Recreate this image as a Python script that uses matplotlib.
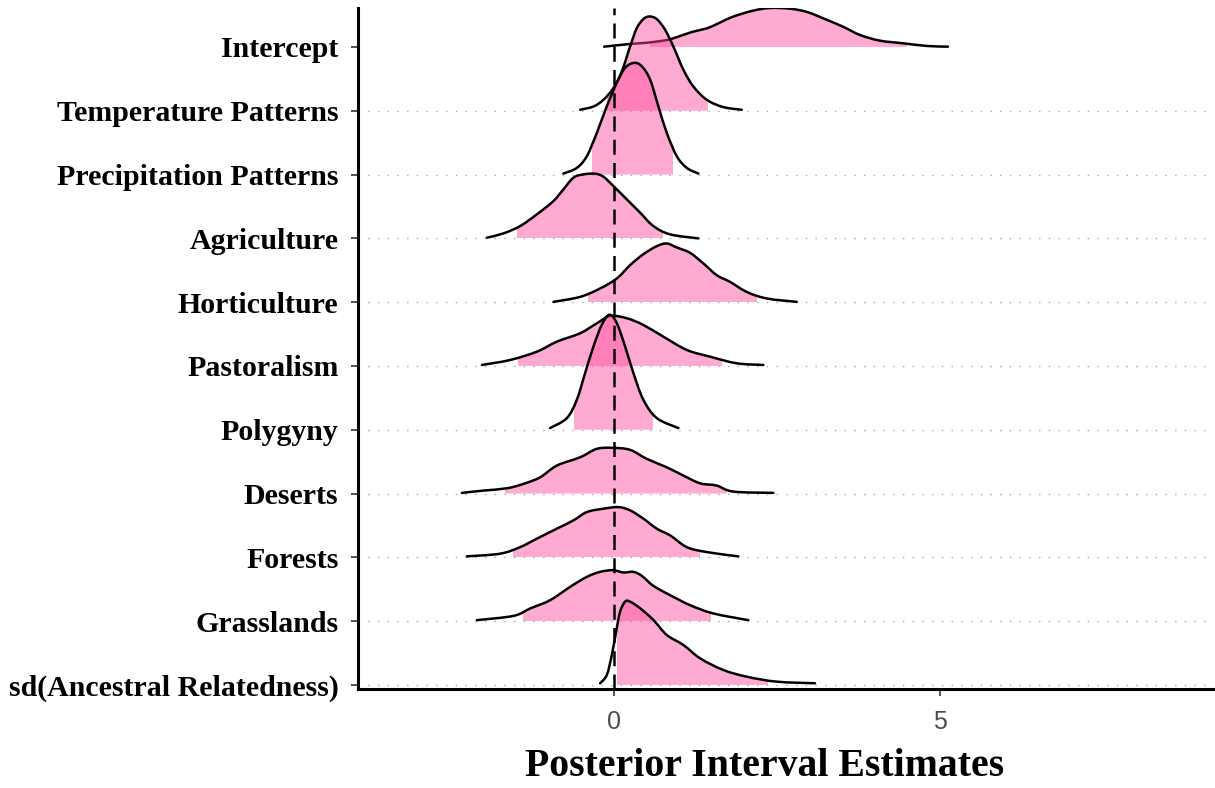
import numpy as np
import matplotlib
matplotlib.use("Agg")
import matplotlib.pyplot as plt
from matplotlib.path import Path
from matplotlib.patches import PathPatch, Rectangle

# parameter names, top row first
params = ["Intercept", "Temperature Patterns", "Precipitation Patterns",
          "Agriculture", "Horticulture", "Pastoralism", "Polygyny",
          "Deserts", "Forests", "Grasslands", "sd(Ancestral Relatedness)"]

# posterior density outlines (x grid, density height in row units)
x_intercept = [-0.153, 0.245, 0.506, 0.813, 1.012, 1.212, 1.426, 1.580, 1.825, 2.132,
               2.393, 2.699, 2.960, 3.206, 3.512, 3.773, 4.080, 4.433, 4.801, 5.123]
d_intercept = [0.005, 0.047, 0.067, 0.110, 0.172, 0.240, 0.293, 0.361, 0.475, 0.569,
               0.611, 0.600, 0.549, 0.450, 0.318, 0.188, 0.099, 0.058, 0.016, 0.005]

x_temp = [-0.521, -0.317, -0.164, -0.011, 0.118, 0.245, 0.348, 0.449, 0.541, 0.655,
          0.782, 0.910, 1.063, 1.216, 1.422, 1.676, 1.959]
d_temp = [0.016, 0.067, 0.172, 0.356, 0.616, 1.006, 1.296, 1.437, 1.478, 1.437,
          1.270, 1.006, 0.643, 0.381, 0.172, 0.058, 0.016]

x_precip = [-0.778, -0.572, -0.419, -0.265, -0.112, 0.041, 0.169, 0.307, 0.425, 0.552,
            0.679, 0.808, 0.962, 1.115, 1.293]
d_precip = [0.016, 0.105, 0.287, 0.654, 1.071, 1.437, 1.672, 1.751, 1.697, 1.489,
            1.071, 0.654, 0.287, 0.105, 0.016]

x_agri = [-1.952, -1.698, -1.442, -1.186, -0.931, -0.778, -0.624, -0.471, -0.291, -0.164,
          -0.011, 0.195, 0.399, 0.603, 0.859, 1.293]
d_agri = [0.011, 0.078, 0.193, 0.376, 0.585, 0.768, 0.951, 1.003, 1.014, 0.967,
          0.820, 0.611, 0.403, 0.193, 0.063, 0.0]

x_horti = [-0.931, -0.521, -0.215, 0.041, 0.245, 0.449, 0.655, 0.808, 0.962, 1.166,
           1.370, 1.575, 1.779, 2.035, 2.342, 2.802]
d_horti = [0.005, 0.083, 0.215, 0.371, 0.580, 0.752, 0.878, 0.920, 0.857, 0.773,
           0.607, 0.423, 0.318, 0.161, 0.058, 0.005]

x_pasto = [-2.029, -1.595, -1.186, -0.879, -0.521, -0.265, -0.061, 0.195, 0.449, 0.756,
           1.115, 1.472, 1.882, 2.290]
d_pasto = [0.016, 0.094, 0.224, 0.381, 0.513, 0.669, 0.784, 0.748, 0.643, 0.459,
           0.251, 0.146, 0.042, 0.016]

x_polyg = [-0.982, -0.725, -0.572, -0.445, -0.317, -0.189, -0.072, 0.041, 0.169, 0.296,
           0.449, 0.655, 0.986]
d_polyg = [0.027, 0.183, 0.470, 0.889, 1.306, 1.646, 1.803, 1.672, 1.306, 0.889,
           0.470, 0.183, 0.027]

x_desert = [-2.336, -2.005, -1.646, -1.391, -1.135, -0.879, -0.521, -0.265, -0.011, 0.245,
            0.502, 0.808, 1.063, 1.319, 1.575, 1.830, 2.443]
d_desert = [0.011, 0.047, 0.083, 0.152, 0.255, 0.439, 0.569, 0.701, 0.716, 0.685,
            0.544, 0.412, 0.282, 0.161, 0.125, 0.031, 0.011]

x_forest = [-2.259, -1.748, -1.442, -1.186, -0.879, -0.624, -0.419, -0.164, 0.066, 0.245,
            0.449, 0.655, 0.859, 1.115, 1.422, 1.906]
d_forest = [0.016, 0.058, 0.161, 0.293, 0.450, 0.580, 0.710, 0.763, 0.788, 0.737,
            0.607, 0.450, 0.345, 0.161, 0.083, 0.016]

x_grass = [-2.106, -1.544, -1.288, -0.982, -0.675, -0.419, -0.215, -0.020, 0.143, 0.296,
           0.425, 0.603, 0.859, 1.166, 1.523, 2.060]
d_grass = [0.016, 0.083, 0.199, 0.329, 0.538, 0.694, 0.773, 0.799, 0.763, 0.773,
           0.710, 0.553, 0.408, 0.251, 0.121, 0.016]

x_sd = [-0.215, -0.112, -0.035, 0.031, 0.092, 0.169, 0.245, 0.399, 0.603, 0.808,
        1.063, 1.319, 1.676, 2.035, 2.495, 3.083]
d_sd = [0.027, 0.157, 0.470, 0.835, 1.149, 1.306, 1.306, 1.202, 1.019, 0.784,
        0.627, 0.418, 0.235, 0.130, 0.052, 0.027]

# inner (shaded) interval bounds per parameter
inner_lo = [0.55, -0.103, -0.333, -1.492, -0.394, -1.468, -0.613, -1.672, -1.544, -1.400, 0.041]
inner_hi = [4.49, 1.446, 0.909, 0.756, 2.189, 1.652, 0.603, 1.729, 1.319, 1.483, 2.367]

xs_all = [x_intercept, x_temp, x_precip, x_agri, x_horti, x_pasto, x_polyg,
          x_desert, x_forest, x_grass, x_sd]
ds_all = [d_intercept, d_temp, d_precip, d_agri, d_horti, d_pasto, d_polyg,
          d_desert, d_forest, d_grass, d_sd]

fill_col = "#FF4E9F"
serif = ["Liberation Serif", "DejaVu Serif"]


def smooth_path(x, y):
    """Bezier path passing through every (x, y) point (Catmull-Rom handles)."""
    p = np.column_stack([x, y])
    ext = np.vstack([p[0], p, p[-1]])
    verts = [p[0]]
    codes = [Path.MOVETO]
    for k in range(len(p) - 1):
        p0, p1, p2, p3 = ext[k], ext[k + 1], ext[k + 2], ext[k + 3]
        verts += [p1 + (p2 - p0) / 6.0, p2 - (p3 - p1) / 6.0, p2]
        codes += [Path.CURVE4] * 3
    return verts, codes


fig = plt.figure(figsize=(12.15, 7.88), dpi=100)
ax = fig.add_axes([358 / 1215, 1 - 689 / 788, (1213 - 358) / 1215, (689 - 8) / 788])

n = len(params)
rows = np.arange(n)[::-1]

# dotted guide lines at each baseline (not for the top row)
for r in rows[1:]:
    ax.axhline(r, color="#a8a8a8", lw=1.0, ls=(0, (1, 6)), zorder=0)

for i in range(n):
    x = np.array(xs_all[i])
    d = np.array(ds_all[i])
    base = rows[i]
    verts, codes = smooth_path(x, base + d)

    # area under the curve, shown only inside the inner interval
    area = Path(verts + [(x[-1], base), (x[0], base), (x[0], base)],
                codes + [Path.LINETO, Path.LINETO, Path.CLOSEPOLY])
    patch = PathPatch(area, facecolor=fill_col, alpha=0.47, lw=0, zorder=2 + 2 * i)
    ax.add_patch(patch)
    clip = Rectangle((inner_lo[i], base), inner_hi[i] - inner_lo[i], 3,
                     transform=ax.transData)
    patch.set_clip_path(clip)

    outline = PathPatch(Path(verts, codes), facecolor="none", edgecolor="black",
                        lw=1.8, zorder=3 + 2 * i, capstyle="round")
    ax.add_patch(outline)

ax.axvline(0, color="black", lw=1.8, ls=(0, (6, 3.3)), zorder=50)

ax.set_xlim(-3.93, 9.19)
ax.set_ylim(-0.063, 10.611)
ax.set_xticks([0, 5])
ax.set_xticklabels(["0", "5"])
ax.set_yticks(rows)
ax.set_yticklabels(params)

for s in ["top", "right"]:
    ax.spines[s].set_visible(False)
for s in ["left", "bottom"]:
    ax.spines[s].set_linewidth(2.2)

ax.tick_params(axis="x", length=5, width=1.2, color="#333333", labelsize=18,
               labelcolor="#4d4d4d", pad=10)
ax.tick_params(axis="y", length=5, width=1.2, color="#333333", pad=9)
for lab in ax.get_xticklabels():
    lab.set_family(["Liberation Sans", "DejaVu Sans"])
for lab in ax.get_yticklabels():
    lab.set_family(serif)
    lab.set_fontweight("bold")
    lab.set_fontsize(21.5)
    lab.set_color("black")

fig.text(765 / 1215, 1 - 767 / 788, "Posterior Interval Estimates", family=serif,
         fontweight="bold", fontsize=28.6, ha="center", va="center")

fig.savefig("out.png", dpi=100)
